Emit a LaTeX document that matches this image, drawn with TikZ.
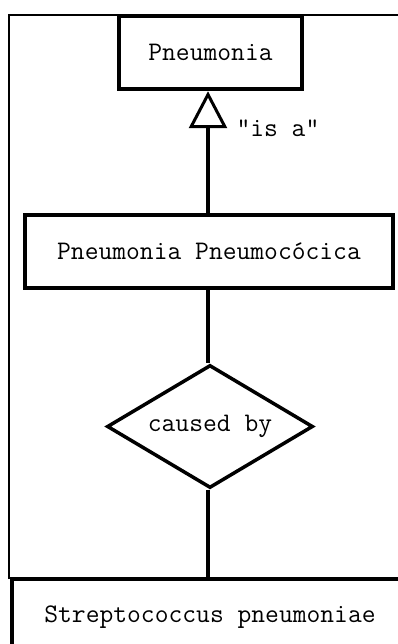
\documentclass[tikz,border=0pt]{standalone}
\usepackage{fontspec}
\usetikzlibrary{shapes.geometric,arrows.meta}
\begin{document}
\begin{tikzpicture}[x=1pt,y=-1pt,
  every node/.style={font=\ttfamily\fontsize{26.8}{28}\selectfont},
  box/.style={draw=black,line width=3.5pt,rectangle,inner sep=0pt},
  rel/.style={draw=black,line width=3.5pt,diamond,shape aspect=1.675,inner sep=0pt,minimum width=206pt,minimum height=123pt},
  conn/.style={line width=3.2pt},
  frame/.style={line width=2.5pt}]
\useasboundingbox (0,0) rectangle (398,644);
\clip (0,0) rectangle (398,644);
\fill[white] (0,0) rectangle (398,644);
% frame
\coordinate (fa) at (9,579);
\coordinate (fb) at (9,15);
\coordinate (fc) at (400,15);
\draw[frame] (fa) -- (fb) -- (fc);
% nodes
\node[box,minimum width=183pt,minimum height=73pt] (p) at (210.5,52.5) {Pneumonia};
\node[box,minimum width=368pt,minimum height=73pt] (ppc) at (209,251.5) {Pneumonia Pneumocócica};
\node[rel] (cb) at (210,426.5) {caused by};
\node[box,line width=4pt,minimum width=396pt,minimum height=76pt] (strep) at (210,617) {Streptococcus pneumoniae};
% connectors
\draw[conn,-{Triangle[open,length=37pt,width=38pt,line width=3pt]},shorten >=0.5pt] (ppc.north -| 208,0) -- (p.south -| 208,0);
\node[anchor=west] (isa) at (233,128) {"is a"};
\draw[conn] (ppc.south -| 208,0) -- (cb.north -| 208,0);
\draw[conn] (cb.south -| 208,0) -- (strep.north -| 208,0);
\end{tikzpicture}
\end{document}
